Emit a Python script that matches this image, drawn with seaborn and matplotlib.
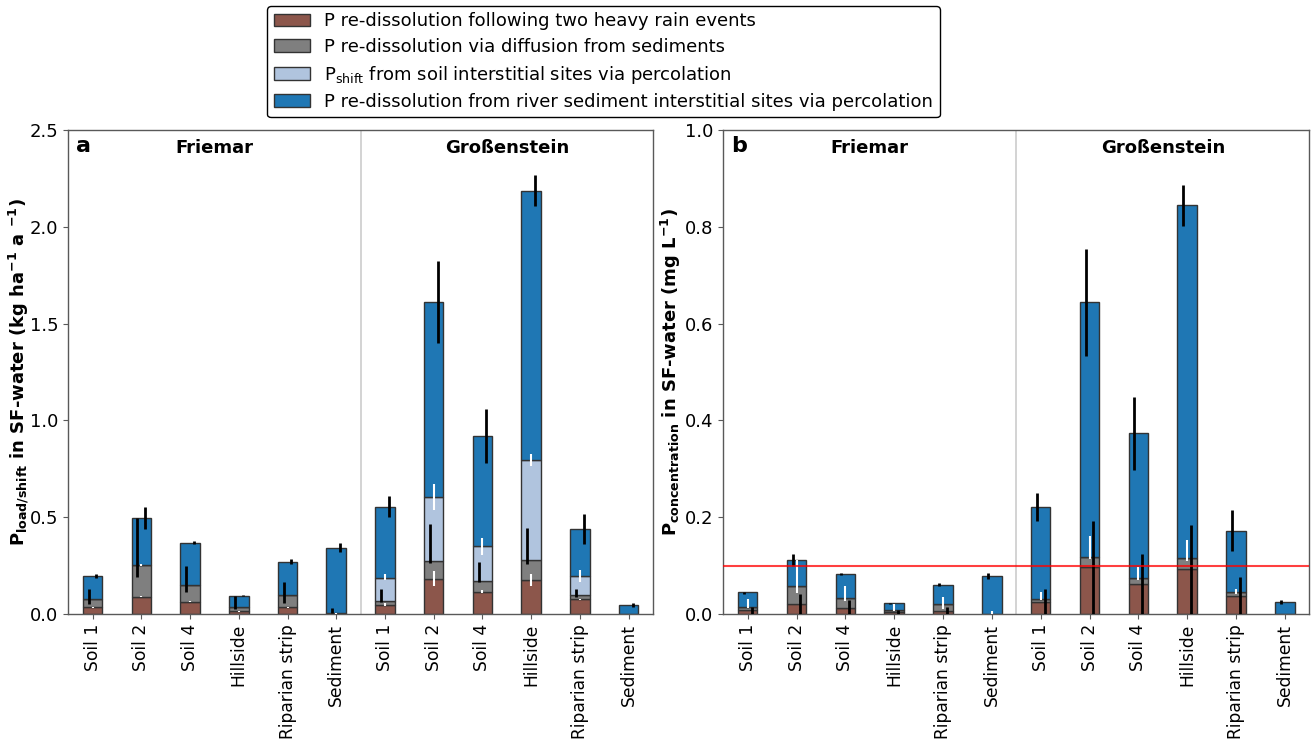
import numpy as np
import pandas as pd
import matplotlib
matplotlib.use("Agg")
import matplotlib.pyplot as plt
from matplotlib.patches import Patch
import seaborn as sns

# ---------------------------------------------------------------------------
# Data
# ---------------------------------------------------------------------------
sites = ["Friemar", "Großenstein"]
samples = ["Soil 1", "Soil 2", "Soil 4", "Hillside", "Riparian strip", "Sediment"]

# Panel a: P load / shift in SF-water (kg ha-1 a-1); layer heights,
# Friemar samples first, then Großenstein samples
load_rain = [0.034, 0.090, 0.063, 0.013, 0.034, 0.004,
             0.047, 0.182, 0.116, 0.176, 0.075, 0.000]
load_diffusion = [0.041, 0.164, 0.089, 0.022, 0.063, 0.002,
                  0.021, 0.093, 0.055, 0.104, 0.025, 0.000]
load_shift = [0.000, 0.000, 0.000, 0.000, 0.000, 0.000,
              0.119, 0.328, 0.178, 0.515, 0.095, 0.000]
load_river = [0.122, 0.241, 0.217, 0.060, 0.174, 0.337,
              0.367, 1.008, 0.571, 1.392, 0.245, 0.047]

# Panel a: uncertainty ranges (lower, upper) of each layer
load_rain_lo = [0.030, 0.087, 0.060, 0.012, 0.032, 0.002,
                0.039, 0.144, 0.110, 0.144, 0.071, 0.000]
load_rain_hi = [0.038, 0.093, 0.066, 0.014, 0.036, 0.006,
                0.056, 0.221, 0.123, 0.204, 0.079, 0.000]
load_diffusion_lo = [0.053, 0.190, 0.113, 0.027, 0.056, 0.005,
                     0.061, 0.262, 0.164, 0.256, 0.087, 0.000]
load_diffusion_hi = [0.130, 0.497, 0.247, 0.092, 0.164, 0.030,
                     0.130, 0.466, 0.268, 0.443, 0.127, 0.000]
load_shift_lo = [0.075, 0.250, 0.152, 0.035, 0.097, 0.006,
                 0.173, 0.535, 0.306, 0.764, 0.164, 0.000]
load_shift_hi = [0.075, 0.258, 0.152, 0.035, 0.097, 0.006,
                 0.208, 0.672, 0.392, 0.824, 0.228, 0.000]
load_river_lo = [0.187, 0.437, 0.362, 0.093, 0.256, 0.318,
                 0.500, 1.399, 0.779, 2.105, 0.359, 0.036]
load_river_hi = [0.208, 0.555, 0.376, 0.097, 0.285, 0.369,
                 0.608, 1.821, 1.060, 2.270, 0.518, 0.058]

# Panel b: P concentration in SF-water (mg L-1); layer heights
conc_rain = [0.009, 0.021, 0.013, 0.004, 0.007, 0.000,
             0.025, 0.097, 0.061, 0.092, 0.038, 0.000]
conc_diffusion = [0.006, 0.036, 0.020, 0.005, 0.014, 0.001,
                  0.005, 0.020, 0.013, 0.024, 0.007, 0.000]
conc_shift = [0.000] * 12
conc_river = [0.030, 0.055, 0.050, 0.013, 0.039, 0.078,
              0.191, 0.527, 0.300, 0.729, 0.127, 0.025]

# Panel b: uncertainty ranges (lower, upper)
conc_rain_lo = [0.000] * 12
conc_rain_hi = [0.015, 0.042, 0.028, 0.009, 0.015, 0.000,
                0.052, 0.193, 0.124, 0.184, 0.077, 0.000]
conc_diffusion_lo = [0.013, 0.043, 0.026, 0.007, 0.011, 0.000,
                     0.029, 0.114, 0.071, 0.110, 0.042, 0.000]
conc_diffusion_hi = [0.030, 0.112, 0.057, 0.021, 0.036, 0.006,
                     0.045, 0.162, 0.097, 0.153, 0.051, 0.000]
conc_river_lo = [0.042, 0.100, 0.081, 0.021, 0.057, 0.073,
                 0.193, 0.534, 0.298, 0.801, 0.130, 0.021]
conc_river_hi = [0.046, 0.124, 0.085, 0.023, 0.064, 0.085,
                 0.250, 0.754, 0.448, 0.887, 0.214, 0.029]

threshold = 0.1  # mg L-1

layer_names = [
    "P re-dissolution following two heavy rain events",
    "P re-dissolution via diffusion from sediments",
    r"P$_{\mathrm{shift}}$ from soil interstitial sites via percolation",
    "P re-dissolution from river sediment interstitial sites via percolation",
]
layer_colors = ["#8c564b", "#7f7f7f", "#b0c4de", "#1f77b4"]

# ---------------------------------------------------------------------------
# Style
# ---------------------------------------------------------------------------
sns.set_style("ticks")
plt.rcParams.update({
    "font.family": ["DejaVu Sans"],
    "font.size": 13,
    "text.color": "black",
    "axes.labelcolor": "black",
    "axes.edgecolor": "0.35",
    "axes.linewidth": 1.0,
    "xtick.color": "0.35",
    "ytick.color": "0.35",
    "xtick.labelcolor": "black",
    "ytick.labelcolor": "black",
    "xtick.labelsize": 12.3,
    "ytick.labelsize": 13,
})

keys = [f"{s}|{n}" for s in sites for n in samples]
tick_labels = samples * len(sites)
pos = np.arange(len(keys))
BAR_W = 0.4
EDGE = "0.2"


def stacked(ax, layers):
    bottom = np.zeros(len(keys))
    tops = []
    for vals, col in zip(layers, layer_colors):
        df = pd.DataFrame({"key": keys, "value": vals})
        sns.barplot(data=df, x="key", y="value", order=keys, color=col,
                    saturation=1, width=BAR_W, errorbar=None, ax=ax,
                    bottom=bottom.copy(), edgecolor=EDGE, linewidth=1.0,
                    zorder=2)
        bottom = bottom + np.asarray(vals)
        tops.append(bottom.copy())
    return tops


def ranges(ax, anchor, lo, hi, dx, color, lw):
    anchor = np.asarray(anchor)
    lo = np.asarray(lo)
    hi = np.asarray(hi)
    yerr = np.vstack([np.clip(anchor - lo, 0, None),
                      np.clip(hi - anchor, 0, None)])
    ax.errorbar(pos + dx, anchor, yerr=yerr, fmt="none", ecolor=color,
                elinewidth=lw, capsize=0, zorder=4)


def decorate(ax, letter, ylabel, ymax, yticks, pad):
    ax.set_xlim(-0.5, len(keys) - 0.5)
    ax.set_ylim(0, ymax)
    ax.set_xticks(pos)
    ax.set_xticklabels(tick_labels, rotation=90)
    ax.set_yticks(yticks)
    ax.set_yticklabels([f"{t:.1f}" for t in yticks])
    ax.set_xlabel("")
    ax.set_ylabel(ylabel, fontweight="bold", fontsize=13, labelpad=pad)
    for side in ["top", "right"]:
        ax.spines[side].set_visible(True)
    ax.axvline(5.5, color="0.8", lw=1.2, zorder=1)
    ax.text(0.013, 0.988, letter, transform=ax.transAxes, fontsize=16,
            fontweight="bold", va="top", ha="left")
    for i, s in enumerate(sites):
        ax.text(2.5 + 6 * i, 0.963, s, transform=ax.get_xaxis_transform(),
                ha="center", va="center", fontsize=13, fontweight="bold")


fig = plt.figure(figsize=(13.12, 7.41), dpi=100)
ax_a = fig.add_axes([0.052, 0.1714, 0.4457, 0.6532])
ax_b = fig.add_axes([0.5513, 0.1714, 0.4466, 0.6532])

# Panel a
tops = stacked(ax_a, [load_rain, load_diffusion, load_shift, load_river])
ranges(ax_a, tops[0], load_rain_lo, load_rain_hi, 0.0, "white", 1.5)
ranges(ax_a, tops[1], load_diffusion_lo, load_diffusion_hi, -0.08, "black", 2.0)
ranges(ax_a, tops[2], load_shift_lo, load_shift_hi, 0.0, "white", 1.5)
ranges(ax_a, tops[3], load_river_lo, load_river_hi, 0.08, "black", 2.0)
decorate(ax_a, "a",
         r"$\mathbf{P}_{\mathbf{load/shift}}$ in SF-water (kg ha$^{\mathbf{-1}}$ a $^{\mathbf{-1}}$)",
         2.5, np.arange(0, 2.51, 0.5), pad=-1)

# Panel b
tops = stacked(ax_b, [conc_rain, conc_diffusion, conc_shift, conc_river])
ranges(ax_b, tops[1], conc_diffusion_lo, conc_diffusion_hi, 0.0, "white", 1.5)
ranges(ax_b, tops[0], conc_rain_lo, conc_rain_hi, 0.08, "black", 2.0)
ranges(ax_b, tops[3], conc_river_lo, conc_river_hi, -0.08, "black", 2.0)
ax_b.axhline(threshold, color="red", lw=1.5, alpha=0.75, zorder=5)
decorate(ax_b, "b",
         r"$\mathbf{P}_{\mathbf{concentration}}$ in SF-water (mg L$^{\mathbf{-1}}$)",
         1.0, np.arange(0, 1.01, 0.2), pad=1.5)

handles = [Patch(facecolor=c, edgecolor=EDGE, label=l)
           for c, l in zip(layer_colors, layer_names)]
leg = fig.legend(handles=handles, loc="upper center",
                 bbox_to_anchor=(0.46, 1.004), fontsize=13, frameon=True,
                 framealpha=1, edgecolor="black", labelspacing=0.42,
                 borderpad=0.35, handlelength=2.0)

fig.savefig("out.png", dpi=100, facecolor="white")
